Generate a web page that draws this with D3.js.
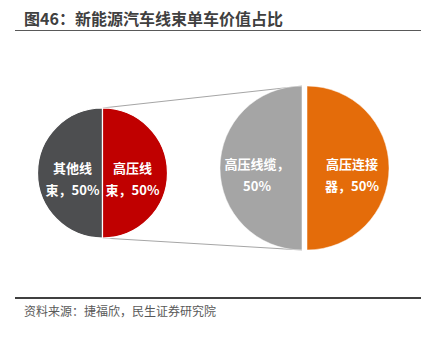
<!DOCTYPE html>
<html>
<head>
<meta charset="utf-8">
<script src="https://cdn.jsdelivr.net/npm/d3@7"></script>
<style>
  html, body { margin: 0; padding: 0; background: #fff; }
  svg { display: block; font-family: "Noto Sans CJK SC", "Noto Sans", sans-serif; }
</style>
</head>
<body>
<svg id="chart" width="431" height="338"></svg>
<script>
// Wire-harness value split (left pie) and the high-voltage harness breakdown (right pie)
const harnessNames = ["其他线束", "高压线束"];
const harnessValues = [50, 50];
const harnessBreaks = [3, 3];

const hvNames = ["高压线缆", "高压连接器"];
const hvValues = [50, 50];
const hvBreaks = [5, 4];

const titleText = "图46：新能源汽车线束单车价值占比";
const sourceText = "资料来源：捷福欣，民生证券研究院";

const harnessColors = ["#4d4e50", "#c00000"];
const hvColors = ["#a5a5a5", "#e46c0a"];

const svg = d3.select("#chart");

// Title and rules
svg.append("text")
  .attr("x", 24).attr("y", 25)
  .attr("font-size", 16).attr("font-weight", "bold")
  .attr("fill", "#404040")
  .text(titleText);
svg.append("line").attr("x1", 15).attr("x2", 421).attr("y1", 30.5).attr("y2", 30.5)
  .attr("stroke", "#595959").attr("stroke-width", 1.2);
svg.append("line").attr("x1", 15).attr("x2", 421).attr("y1", 298).attr("y2", 298)
  .attr("stroke", "#404040").attr("stroke-width", 2);
svg.append("text")
  .attr("x", 24).attr("y", 316)
  .attr("font-size", 12)
  .attr("fill", "#595959")
  .text(sourceText);

// Pies: first slice covers the left half (6 o'clock round to 12 o'clock), second the right half
const pie = d3.pie().sort(null).startAngle(Math.PI).endAngle(3 * Math.PI);

function labelText(name, value) { return name + "，" + value + "%"; }

function drawPie(cfg) {
  const arcs = pie(cfg.values);
  const arc = d3.arc().innerRadius(0).outerRadius(cfg.r);
  const labelArc = d3.arc().innerRadius(cfg.labelR).outerRadius(cfg.labelR);
  const g = svg.append("g").attr("transform", `translate(${cfg.cx},${cfg.cy})`);
  const slices = g.selectAll("g.slice").data(arcs).join("g")
    .attr("class", "slice")
    .attr("transform", d => {
      const [x, y] = d3.arc().innerRadius(1).outerRadius(1).centroid(d);
      const len = Math.hypot(x, y) || 1;
      return `translate(${x / len * cfg.explode},${y / len * cfg.explode})`;
    });
  slices.append("path")
    .attr("d", arc)
    .attr("fill", (d, i) => cfg.colors[i])
    .attr("stroke", "#fff")
    .attr("stroke-width", cfg.stroke);
  slices.each(function (d, i) {
    const full = labelText(cfg.names[i], cfg.values[i]);
    const lines = [full.slice(0, cfg.breaks[i]), full.slice(cfg.breaks[i])];
    const [lx, ly] = labelArc.centroid(d);
    const t = d3.select(this).append("text")
      .attr("text-anchor", "middle")
      .attr("font-size", 13).attr("font-weight", "bold")
      .attr("fill", "#fff");
    lines.forEach((ln, k) => {
      t.append("tspan")
        .attr("x", lx)
        .attr("y", ly + cfg.lineY[k])
        .attr("dominant-baseline", "central")
        .text(ln);
    });
  });
  return g;
}

const small = { cx: 102.5, cy: 173, r: 65 };
const big = { cx: 304.5, cy: 168, r: 82, explode: 2.5 };

// Connector lines from the high-voltage slice edge to the breakdown pie
svg.append("line")
  .attr("x1", small.cx).attr("y1", small.cy - small.r)
  .attr("x2", big.cx - big.explode).attr("y2", big.cy - big.r)
  .attr("stroke", "#a6a6a6").attr("stroke-width", 1.2);
svg.append("line")
  .attr("x1", small.cx).attr("y1", small.cy + small.r)
  .attr("x2", big.cx - big.explode).attr("y2", big.cy + big.r)
  .attr("stroke", "#a6a6a6").attr("stroke-width", 1.2);

drawPie({ ...small, explode: 0, stroke: 1.2, labelR: 30,
  values: harnessValues, names: harnessNames, breaks: harnessBreaks,
  colors: harnessColors, lineY: [-6, 16] });

drawPie({ ...big, stroke: 0.5, labelR: 45,
  values: hvValues, names: hvNames, breaks: hvBreaks,
  colors: hvColors, lineY: [-5, 17] });
</script>
</body>
</html>
